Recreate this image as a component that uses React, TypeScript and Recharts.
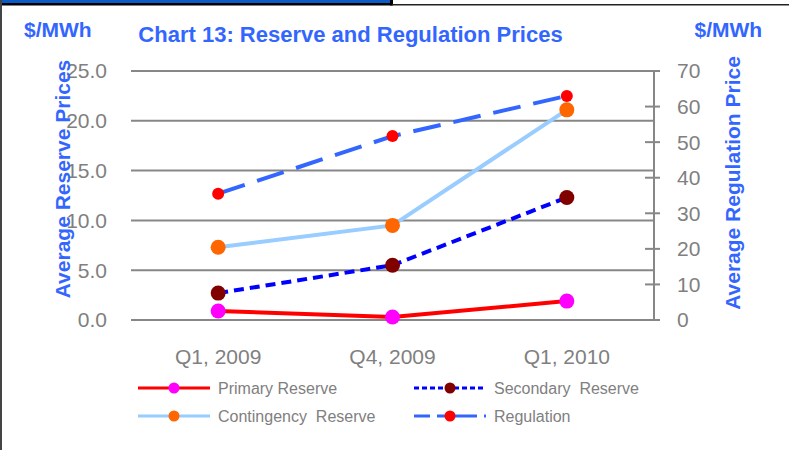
import React from 'react';
import { LineChart, Line, XAxis, YAxis, CartesianGrid, Legend } from 'recharts';

// ---- data ----
const categories = ['Q1, 2009', 'Q4, 2009', 'Q1, 2010'];
const primaryReserve = [0.9, 0.3, 1.9];
const secondaryReserve = [2.7, 5.5, 12.3];
const contingencyReserve = [7.3, 9.5, 21.1];
const regulation = [35.5, 51.7, 63.0];
const leftTicks = [0, 5, 10, 15, 20, 25];
const rightTicks = [0, 10, 20, 30, 40, 50, 60, 70];
const boundaryTicks = [0, 1, 2, 3];

const data = categories.map((cat, i) => ({
  cat,
  primary: primaryReserve[i],
  secondary: secondaryReserve[i],
  contingency: contingencyReserve[i],
  regulation: regulation[i],
}));

const FONT = '"Liberation Sans", Arial, Helvetica, sans-serif';
const GREY = '#878787';
const TEXT_GREY = '#808080';
const BLUE = '#3366FF';

const legendItems = [
  { label: 'Primary Reserve', stroke: '#FF0000', dash: undefined as string | undefined, dot: '#FF00FF', col: 0, row: 0 },
  { label: 'Secondary  Reserve', stroke: '#0000FF', dash: '5 3', dot: '#800000', col: 1, row: 0 },
  { label: 'Contingency  Reserve', stroke: '#99CCFF', dash: undefined as string | undefined, dot: '#FF6600', col: 0, row: 1 },
  { label: 'Regulation', stroke: '#3366FF', dash: '16 7 40 7 2 100', dot: '#FF0000', col: 1, row: 1 },
];
const legendColX = [138, 414];
const legendRowY = [16, 44];

const LegendContent = () => (
  <svg width={789} height={60} style={{ display: 'block' }}>
    {legendItems.map((it) => {
      const x0 = legendColX[it.col];
      const y = legendRowY[it.row];
      return (
        <g key={it.label}>
          <line x1={x0} x2={x0 + 72} y1={y} y2={y} stroke={it.stroke} strokeWidth={3} strokeDasharray={it.dash} />
          <circle cx={x0 + 36} cy={y} r={5.5} fill={it.dot} />
          <text
            x={x0 + 80}
            y={y}
            dy="0.36em"
            fontSize={16}
            fill={TEXT_GREY}
            fontFamily={FONT}
            style={{ whiteSpace: 'pre' }}
          >
            {it.label}
          </text>
        </g>
      );
    })}
  </svg>
);

const RightTick = (props: any) => {
  const { x, y, payload } = props;
  const axisX = x - 23;
  return (
    <g>
      <line x1={axisX - 9} x2={axisX + 6} y1={y} y2={y} stroke={GREY} strokeWidth={2} />
      <text x={x} y={y} dy="0.355em" textAnchor="start" fontSize={21} fill={TEXT_GREY} fontFamily={FONT}>
        {payload.value}
      </text>
    </g>
  );
};

export default function App() {
  return (
    <div style={{ position: 'absolute', left: 0, top: 0, width: 789, height: 450, background: '#fff', fontFamily: FONT }}>
      <LineChart width={789} height={450} data={data} margin={{ top: 71, right: 55, bottom: 22, left: 51 }}>
        <CartesianGrid xAxisId="c" yAxisId="left" vertical={false} stroke={GREY} strokeWidth={2} strokeOpacity={1} />
        <XAxis
          xAxisId="b"
          type="number"
          domain={[0, 3]}
          ticks={boundaryTicks}
          allowDataOverflow
          tick={false}
          height={8}
          tickSize={7}
          axisLine={{ stroke: GREY, strokeWidth: 2 }}
          tickLine={{ stroke: GREY, strokeWidth: 2 }}
        />
        <XAxis
          xAxisId="c"
          dataKey="cat"
          scale="band"
          axisLine={false}
          tickLine={false}
          tickSize={0}
          tickMargin={21}
          height={40}
          interval={0}
          tick={{ fontSize: 21, fill: TEXT_GREY, fontFamily: FONT }}
        />
        <YAxis
          yAxisId="left"
          domain={[0, 25]}
          ticks={leftTicks}
          interval={0}
          axisLine={false}
          tickLine={false}
          tickSize={0}
          tickMargin={24}
          width={80}
          tickFormatter={(v: number) => v.toFixed(1)}
          tick={{ fontSize: 21, fill: TEXT_GREY, fontFamily: FONT }}
        />
        <YAxis
          yAxisId="right"
          orientation="right"
          domain={[0, 70]}
          ticks={rightTicks}
          interval={0}
          axisLine={{ stroke: GREY, strokeWidth: 2 }}
          tickLine={false}
          tickSize={0}
          tickMargin={23}
          width={80}
          tick={<RightTick />}
        />
        <Legend
          content={<LegendContent />}
          wrapperStyle={{ top: 372, left: 0, width: 789, height: 60 }}
        />
        <Line
          xAxisId="c"
          yAxisId="right"
          dataKey="regulation"
          name="Regulation"
          type="linear"
          stroke="#3366FF"
          strokeWidth={4}
          strokeDasharray="28 13"
          dot={{ r: 6, fill: '#FF0000', stroke: 'none', strokeWidth: 0 }}
          activeDot={false}
          isAnimationActive={false}
        />
        <Line
          xAxisId="c"
          yAxisId="left"
          dataKey="primary"
          name="Primary Reserve"
          type="linear"
          stroke="#FF0000"
          strokeWidth={4}
          dot={{ r: 7.5, fill: '#FF00FF', stroke: 'none', strokeWidth: 0 }}
          activeDot={false}
          isAnimationActive={false}
        />
        <Line
          xAxisId="c"
          yAxisId="left"
          dataKey="secondary"
          name="Secondary Reserve"
          type="linear"
          stroke="#0000FF"
          strokeWidth={4}
          strokeDasharray="10 6"
          dot={{ r: 7.5, fill: '#800000', stroke: 'none', strokeWidth: 0 }}
          activeDot={false}
          isAnimationActive={false}
        />
        <Line
          xAxisId="c"
          yAxisId="left"
          dataKey="contingency"
          name="Contingency Reserve"
          type="linear"
          stroke="#99CCFF"
          strokeWidth={4}
          dot={{ r: 7.5, fill: '#FF6600', stroke: 'none', strokeWidth: 0 }}
          activeDot={false}
          isAnimationActive={false}
        />
      </LineChart>
      <svg
        width={789}
        height={450}
        style={{ position: 'absolute', left: 0, top: 0, pointerEvents: 'none' }}
      >
        <rect x={0} y={0} width={392} height={3} fill="#0A5BC4" />
        <rect x={0} y={3} width={392} height={2.5} fill="#000" />
        <rect x={390} y={0} width={3} height={5.5} fill="#000" />
        <rect x={392} y={4} width={397} height={1.5} fill="#222" />
        <rect x={0} y={0} width={2} height={450} fill="#444" />
        <text x={24} y={36.5} fontSize={21} fontWeight="bold" fill={BLUE} fontFamily={FONT}>$/MWh</text>
        <text x={694.5} y={36.5} fontSize={21} fontWeight="bold" fill={BLUE} fontFamily={FONT}>$/MWh</text>
        <text x={350.5} y={42.3} fontSize={22} fontWeight="bold" fill={BLUE} fontFamily={FONT} textAnchor="middle">
          Chart 13: Reserve and Regulation Prices
        </text>
        <text
          transform="translate(62.5,179) rotate(-90)"
          textAnchor="middle"
          dy="0.36em"
          fontSize={21}
          fontWeight="bold"
          fill={BLUE}
          fontFamily={FONT}
        >
          Average Reserve Prices
        </text>
        <text
          transform="translate(732,183) rotate(-90)"
          textAnchor="middle"
          dy="0.36em"
          fontSize={21}
          fontWeight="bold"
          fill={BLUE}
          fontFamily={FONT}
        >
          Average Regulation Price
        </text>
      </svg>
    </div>
  );
}
